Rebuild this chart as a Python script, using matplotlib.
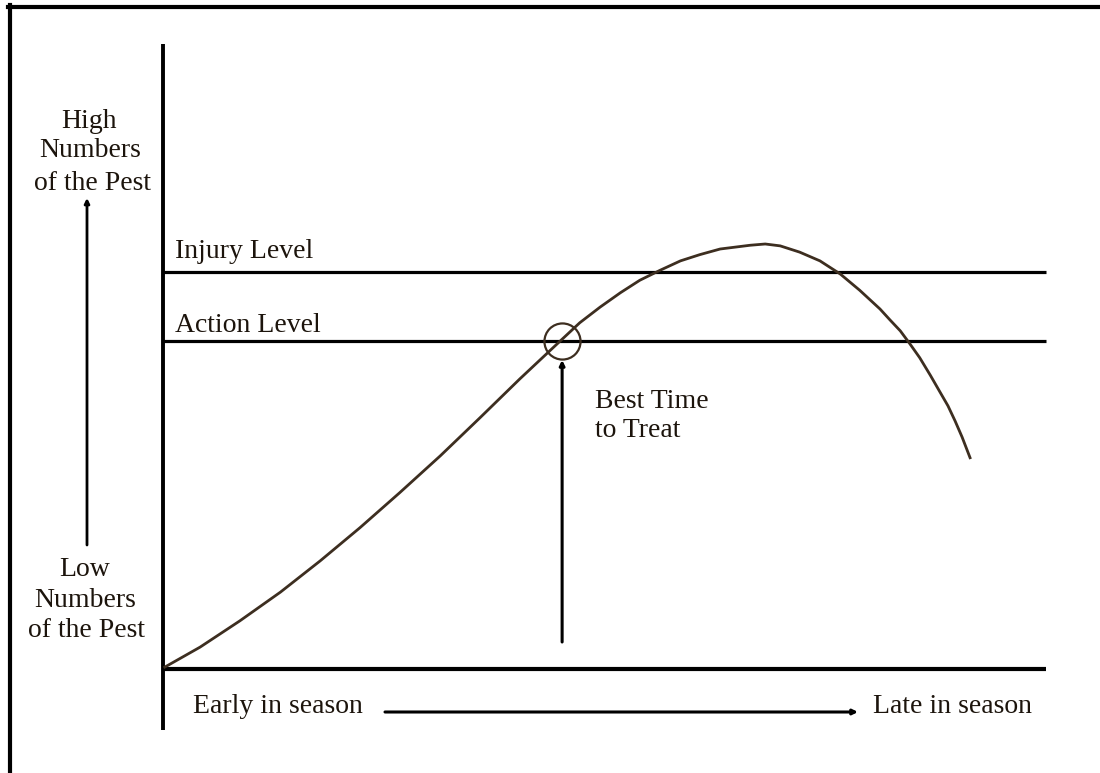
import matplotlib.pyplot as plt
import numpy as np

# pest numbers through the season (0-100 scales)
season = [0.2, 4.2, 8.7, 13.3, 17.8, 22.3, 26.8, 31.4, 35.9, 40.4, 45.0,
          47.2, 49.5, 51.8, 54.0, 56.3, 58.6, 60.8, 63.1, 66.5, 68.2, 69.9,
          72.1, 74.4, 76.7, 78.9, 81.2, 82.3, 83.5, 84.6, 85.7, 86.9, 88.0,
          88.9, 89.7, 90.5, 91.4]
pest = [0.3, 3.5, 7.7, 12.3, 17.3, 22.6, 28.2, 34.1, 40.2, 46.4, 52.5,
        55.4, 57.9, 60.2, 62.2, 63.8, 65.3, 66.3, 67.2, 67.8, 68.0, 67.7,
        66.7, 65.3, 63.2, 60.6, 57.6, 55.9, 54.1, 52.0, 49.8, 47.0, 44.3,
        42.1, 39.7, 37.1, 33.8]

injury_level = 63.5
action_level = 52.5
best_time = 45.2

W, H = 1100, 773
# pixel position of the origin and size of one unit
x0, y0 = 163, 669
sx, sy = 8.83, 6.25

curve_col = '#3d2e20'
ink = '#1c140c'
font = 'Liberation Serif'

fig = plt.figure(figsize=(W / 100, H / 100), dpi=100)
ax = fig.add_axes([0, 0, 1, 1])
ax.set_xlim(-x0 / sx, (W - x0) / sx)
ax.set_ylim((y0 - H) / sy, y0 / sy)
ax.axis('off')

# frame of the picture (top and left only)
fig.add_artist(plt.Line2D([8 / W, 1], [1 - 6.5 / H, 1 - 6.5 / H], color='black', lw=3.0))
fig.add_artist(plt.Line2D([9.5 / W, 9.5 / W], [0, 1 - 5 / H], color='black', lw=3.0))

# axes
ax.plot([0, 0], [(y0 - 730) / sy, (y0 - 44) / sy], color='black', lw=2.8, solid_capstyle='butt')
ax.plot([0, 100], [0, 0], color='black', lw=3.0, solid_capstyle='butt')

# thresholds
ax.plot([0, 100], [injury_level, injury_level], color='black', lw=2.3, solid_capstyle='butt')
ax.plot([0, 100], [action_level, action_level], color='black', lw=2.3, solid_capstyle='butt')

# population curve
ax.plot(season, pest, color=curve_col, lw=2.0, solid_joinstyle='round')

# circle where the curve meets the action level
ax.plot([best_time], [action_level], marker='o', ms=26, mfc='none', mec=curve_col, mew=1.6)

# arrow up to the best time to treat
ax.annotate('', xy=(best_time, (y0 - 360) / sy), xytext=(best_time, (y0 - 642) / sy),
            arrowprops=dict(arrowstyle='-|>', lw=2.2, color='black', mutation_scale=7,
                            shrinkA=0, shrinkB=0))

# side and bottom arrows
ax.annotate('', xy=(87, H - 198), xytext=(87, H - 545), xycoords='figure pixels',
            textcoords='figure pixels',
            arrowprops=dict(arrowstyle='-|>', lw=2.0, color='black', mutation_scale=7,
                            shrinkA=0, shrinkB=0))
ax.annotate('', xy=(858, H - 712), xytext=(385, H - 712), xycoords='figure pixels',
            textcoords='figure pixels',
            arrowprops=dict(arrowstyle='-|>', lw=2.2, color='black', mutation_scale=7,
                            shrinkA=0, shrinkB=0))


def label(px, py, s, ha='left'):
    fig.text(px / W, 1 - py / H, s, family=font, fontsize=20, color=ink,
             ha=ha, va='baseline')


label(89, 128, 'High', 'center')
label(90, 157, 'Numbers', 'center')
label(92, 190, 'of the Pest', 'center')
label(85, 576, 'Low', 'center')
label(85, 607, 'Numbers', 'center')
label(87, 637, 'of the Pest', 'center')
label(175, 258, 'Injury Level')
label(175, 332, 'Action Level')
label(595, 408, 'Best Time')
label(595, 437, 'to Treat')
label(193, 713, 'Early in season')
label(873, 713, 'Late in season')

fig.savefig('out.png', dpi=100, facecolor='white')
